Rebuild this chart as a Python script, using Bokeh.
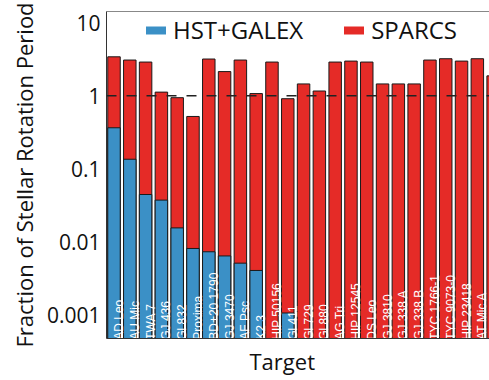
import numpy as np
from bokeh.plotting import figure
from bokeh.models import (ColumnDataSource, Range1d, FixedTicker, CustomJSTickFormatter,
                          Span, Legend, LegendItem, LinearAxis, Title)
from bokeh.core.properties import value
from bokeh.embed import file_html
from bokeh.resources import INLINE

# Targets in plotting order
targets = ["AD Leo", "AU Mic", "TWA 7", "GJ 436", "Gl 832", "Proxima", "BD+20 1790",
           "GJ 3470", "AF Psc", "K2 3", "HIP 50156", "Gl 411", "Gl 729", "Gl 880",
           "AG Tri", "HIP 12545", "DS Leo", "GJ 3810", "GJ 338 A", "GJ 338 B",
           "TYC 1766-1", "TYC 9073-0", "HIP 23418", "AT Mic A", "AT Mic B"]

# Fraction of the stellar rotation period covered by each program
sparcs = [3.41, 3.08, 2.89, 1.12, 0.94, 0.52, 3.18, 2.14, 3.08, 1.07, 2.89, 0.91,
          1.45, 1.16, 2.89, 2.98, 2.89, 1.45, 1.45, 1.45, 3.08, 3.21, 2.98, 3.21, 1.87]
hst_galex = [0.364, 0.135, 0.0444, 0.0372, 0.0155, 0.0081, 0.0073, 0.0064, 0.0051,
             0.00405, None, 0.00106, None, None, None, None, None, None, None, None,
             None, None, None, None, None]

y_ticks = [0.001, 0.01, 0.1, 1, 10]

BLUE = "#3b90c6"
RED = "#e52b27"
FONT = "Open Sans"

Y_MIN, Y_MAX = 10 ** -3.324, 10 ** 1.153
idx = list(range(len(targets)))

red_src = ColumnDataSource(dict(x=idx, top=sparcs))
bi = [i for i, v in enumerate(hst_galex) if v is not None]
blue_src = ColumnDataSource(dict(x=bi, top=[hst_galex[i] for i in bi]))
lab_src = ColumnDataSource(dict(x=idx, name=targets))

p = figure(width=489, height=380, x_range=Range1d(-0.475, 23.77),
           y_range=Range1d(Y_MIN, Y_MAX), y_axis_type="log",
           output_backend="svg", toolbar_location=None,
           min_border_left=106, min_border_right=0, min_border_top=11,
           min_border_bottom=39)
p.outline_line_color = None
p.grid.visible = False
p.background_fill_color = "white"

p.vbar(x="x", top="top", bottom=1e-6, width=0.79, source=red_src,
       fill_color=RED, line_color="#1a1a1a", line_width=1)
p.vbar(x="x", top="top", bottom=1e-6, width=0.79, source=blue_src,
       fill_color=BLUE, line_color="#1a1a1a", line_width=1)

# Target names written upward inside each bar (offsets are in the text's frame)
p.text(x="x", y=Y_MIN, text="name", source=lab_src, angle=np.pi / 2,
       text_align="left", text_baseline="middle", text_color="white",
       text_font=value("Liberation Sans"), text_font_size="12px",
       x_offset=5, y_offset=1.25)

p.add_layout(Span(location=1, dimension="width", line_dash="10 10",
                  line_color="#222222", line_width=1.5))

# Legend swatches without outlines (hidden renderers, shown only in the legend)
blue_proxy = p.vbar(x="x", top="top", bottom=1e-6, width=0.79, source=blue_src,
                    fill_color=BLUE, line_color=None, visible=False)
red_proxy = p.vbar(x="x", top="top", bottom=1e-6, width=0.79, source=red_src,
                   fill_color=RED, line_color=None, visible=False)
legend = Legend(items=[LegendItem(label="HST+GALEX", renderers=[blue_proxy]),
                       LegendItem(label="SPARCS", renderers=[red_proxy])],
                orientation="horizontal", location=(37, 292),
                glyph_width=25, glyph_height=10, label_standoff=5, spacing=38,
                padding=0, margin=0, border_line_color=None,
                background_fill_alpha=0, inactive_fill_alpha=0,
                click_policy="none", label_text_font=FONT,
                label_text_font_size="24px", label_text_color="#111111")
p.add_layout(legend)

# y axis
ya = p.yaxis[0]
ya.ticker = FixedTicker(ticks=y_ticks)
ya.formatter = CustomJSTickFormatter(code="return tick.toString();")
ya.minor_tick_line_color = None
ya.major_tick_line_color = None
ya.major_tick_out = 0
ya.major_label_standoff = 6
ya.major_label_text_font = FONT
ya.major_label_text_font_size = "21px"
ya.major_label_text_color = "#111111"
ya.axis_line_color = "#333333"
ya.axis_label = "Fraction of Stellar Rotation Period"
ya.axis_label_text_font = FONT
ya.axis_label_text_font_size = "22px"
ya.axis_label_text_font_style = "normal"
ya.axis_label_text_color = "#111111"
ya.axis_label_standoff = 5

# x axis: line only, labels sit inside the bars
xa = p.xaxis[0]
xa.ticker = FixedTicker(ticks=[])
xa.major_tick_line_color = None
xa.minor_tick_line_color = None
xa.axis_line_color = "#333333"

# top frame edge
top = LinearAxis(ticker=FixedTicker(ticks=[]), axis_line_color="#888888",
                 major_tick_line_color=None, minor_tick_line_color=None)
p.add_layout(top, "above")

p.add_layout(Title(text="Target", align="left", offset=143, text_font=FONT,
                   text_font_size="22px", text_font_style="normal",
                   text_color="#111111"), "below")

open("out.html", "w").write(file_html(p, INLINE))
